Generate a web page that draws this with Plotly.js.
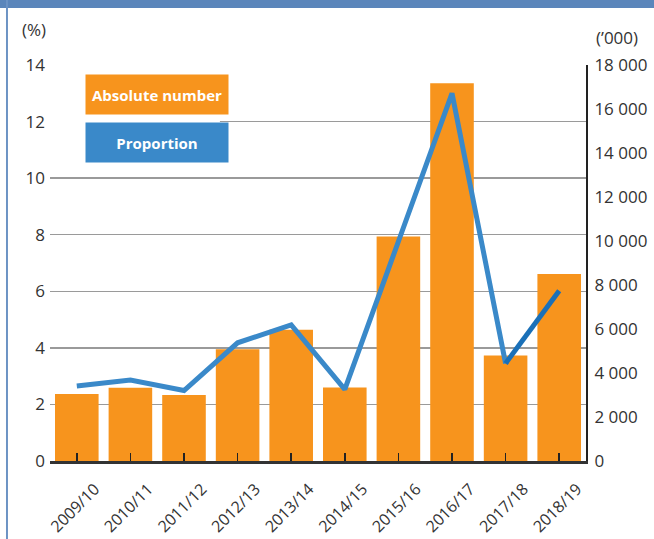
<!DOCTYPE html>
<html>
<head>
<meta charset="utf-8">
<script src="https://cdn.plot.ly/plotly-3.0.1.min.js"></script>
<style>
  html, body { margin: 0; padding: 0; background: #ffffff; }
  #chart { width: 654px; height: 539px; }
</style>
</head>
<body>
<div id="chart"></div>
<script>
// ---- data ----
const years = ["2009/10", "2010/11", "2011/12", "2012/13", "2013/14", "2014/15", "2015/16", "2016/17", "2017/18", "2018/19"];
const absoluteNumber = [3050, 3330, 3000, 5080, 5970, 3340, 10200, 17170, 4800, 8500]; // thousands
const proportion = [2.65, 2.86, 2.49, 4.18, 4.81, 2.53, 7.76, 13.0, 3.45, 6.02]; // %
const leftTicks = [0, 2, 4, 6, 8, 10, 12, 14];
const rightTicks = [0, 2000, 4000, 6000, 8000, 10000, 12000, 14000, 16000, 18000];

const fontFam = '"Open Sans", "DejaVu Sans", sans-serif';
const textCol = '#333333';

const traces = [
  {
    type: 'bar',
    x: years,
    y: absoluteNumber,
    yaxis: 'y',
    marker: { color: '#f7941d', line: { width: 0 } },
    hoverinfo: 'skip'
  },
  {
    type: 'scatter',
    mode: 'lines',
    x: years.slice(0, 9),
    y: proportion.slice(0, 9),
    yaxis: 'y2',
    line: { color: '#3a89c9', width: 5 },
    hoverinfo: 'skip'
  },
  {
    type: 'scatter',
    mode: 'lines',
    x: years.slice(8),
    y: proportion.slice(8),
    yaxis: 'y2',
    line: { color: '#1a70b8', width: 5 },
    hoverinfo: 'skip'
  }
];

const layout = {
  width: 654,
  height: 539,
  margin: { l: 50, r: 68, t: 65, b: 78, pad: 0 },
  paper_bgcolor: '#ffffff',
  plot_bgcolor: '#ffffff',
  showlegend: false,
  hovermode: false,
  separators: '. ',
  bargap: 0.187,
  font: { family: fontFam, color: textCol, size: 17 },
  xaxis: {
    type: 'category',
    tickangle: -45,
    tickfont: { size: 16, color: textCol },
    ticklabelshift: 18,
    ticklabelstandoff: 10,
    ticks: 'inside',
    ticklen: 8,
    tickwidth: 1.5,
    tickcolor: '#222222',
    showline: true,
    linecolor: '#333333',
    linewidth: 2.5,
    showgrid: false,
    zeroline: false,
    fixedrange: true
  },
  yaxis: {
    side: 'right',
    range: [0, 18000],
    tickvals: rightTicks,
    tickformat: ',',
    ticks: '',
    ticklabelstandoff: 3,
    showgrid: false,
    zeroline: false,
    showline: true,
    linecolor: '#222222',
    linewidth: 2,
    tickfont: { size: 17, color: textCol },
    fixedrange: true
  },
  yaxis2: {
    overlaying: 'y',
    side: 'left',
    range: [0, 14],
    tickvals: leftTicks,
    ticks: '',
    ticklabelstandoff: 4,
    showgrid: true,
    gridcolor: '#9a9a9a',
    gridwidth: 1.5,
    zeroline: false,
    showline: false,
    tickfont: { size: 17, color: textCol },
    fixedrange: true
  },
  shapes: [
    // white area hiding the gridlines behind the key
    { type: 'rect', xref: 'paper', yref: 'paper', x0: 0, x1: 0.317, y0: 0.836, y1: 1.02,
      fillcolor: '#ffffff', line: { width: 0 }, layer: 'above' },
    // frame: top band and left rule
    { type: 'rect', xref: 'paper', yref: 'paper', x0: -0.1, x1: 1.2, y0: 1.1439, y1: 1.17,
      fillcolor: '#5b86bb', line: { width: 0 }, layer: 'above' },
    { type: 'rect', xref: 'paper', yref: 'paper', x0: -0.0821, x1: -0.0784, y0: -0.25, y1: 1.17,
      fillcolor: '#6c93c4', line: { width: 0 }, layer: 'above' }
  ],
  annotations: [
    { text: '(%)', xref: 'paper', yref: 'paper', x: (20 - 50) / 536, y: (461 - 30) / 396,
      xanchor: 'left', yanchor: 'middle', showarrow: false, font: { size: 17, color: textCol } },
    { text: '(\u2019000)', xref: 'paper', yref: 'paper', x: (594 - 50) / 536, y: (461 - 37) / 396,
      xanchor: 'left', yanchor: 'middle', showarrow: false, font: { size: 17, color: textCol } },
    { text: '<b>Absolute number</b>', xref: 'paper', yref: 'paper', x: (85 - 50) / 536, y: (461 - 74) / 396,
      xanchor: 'left', yanchor: 'top', showarrow: false, width: 142, height: 39, borderpad: 0,
      bgcolor: '#f7941d', align: 'center', valign: 'middle',
      font: { size: 15, color: '#ffffff' } },
    { text: '<b>Proportion</b>', xref: 'paper', yref: 'paper', x: (85 - 50) / 536, y: (461 - 122) / 396,
      xanchor: 'left', yanchor: 'top', showarrow: false, width: 142, height: 39, borderpad: 0,
      bgcolor: '#3a89c9', align: 'center', valign: 'middle',
      font: { size: 15, color: '#ffffff' } }
  ]
};

Plotly.newPlot('chart', traces, layout, { staticPlot: true, displayModeBar: false });
</script>
</body>
</html>
